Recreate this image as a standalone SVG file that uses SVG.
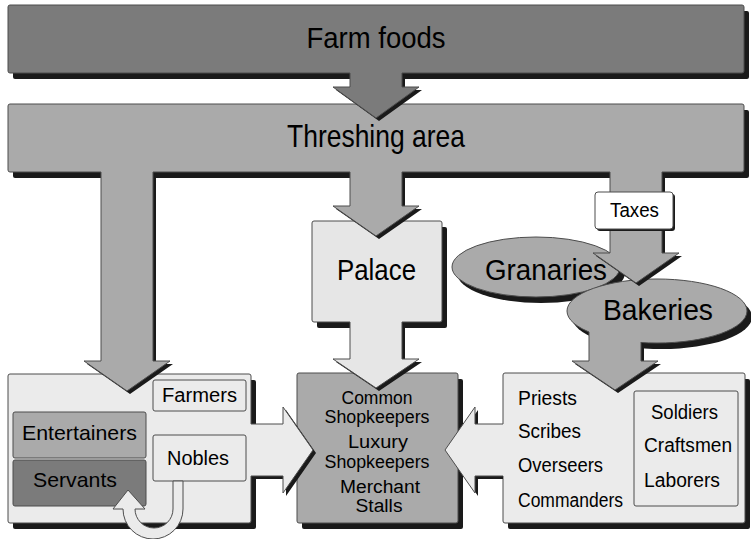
<svg xmlns="http://www.w3.org/2000/svg" width="751" height="539" viewBox="0 0 751 539">
<style>
.sh{fill:#1a1a1a}
.bx{stroke:#4d4d4d;stroke-width:1}
.d{fill:#7b7b7b}
.m{fill:#aaaaaa}
.l{fill:#ebebeb}
.p{fill:#e6e6e6}
.w{fill:#ffffff}
.ol{fill:none;stroke:#4d4d4d;stroke-width:1;stroke-linejoin:miter}
.t{font-family:"Liberation Sans",Arial,sans-serif;fill:#000}
.big{font-size:30px}
.sm{font-size:20px}
.cs{font-size:18px}
</style>
<rect width="751" height="539" fill="#fff"/>
<g id="nodes">
 <g id="farm-foods">
  <rect class="sh" x="13" y="11" width="736" height="68" rx="2"/>
  <rect class="bx d" x="8" y="5" width="736" height="68" rx="2"/>
  <text class="t big" x="376" y="48" text-anchor="middle" textLength="139" lengthAdjust="spacingAndGlyphs">Farm foods</text>
 </g>
 <g id="threshing-area">
  <rect class="sh" x="13" y="110" width="736" height="68" rx="2"/>
  <rect class="bx m" x="8" y="104" width="736" height="68" rx="2"/>
  <text class="t" font-size="32" x="376" y="147" text-anchor="middle" textLength="178" lengthAdjust="spacingAndGlyphs">Threshing area</text>
 </g>
 <g id="palace">
  <rect class="sh" x="317" y="227" width="130" height="101" rx="2"/>
  <rect class="bx p" x="312" y="221" width="130" height="101" rx="2"/>
  <text class="t big" x="337" y="280" textLength="79" lengthAdjust="spacingAndGlyphs">Palace</text>
 </g>
 <g id="granaries">
  <ellipse class="sh" cx="541" cy="273" rx="84" ry="30"/>
  <ellipse class="bx m" cx="536" cy="267" rx="84" ry="30"/>
  <text class="t big" x="485" y="280" textLength="122" lengthAdjust="spacingAndGlyphs">Granaries</text>
 </g>
 <g id="bakeries">
  <ellipse class="sh" cx="662" cy="317" rx="90" ry="32"/>
  <ellipse class="bx m" cx="657" cy="311" rx="90" ry="32"/>
  <text class="t big" x="603" y="320" textLength="110" lengthAdjust="spacingAndGlyphs">Bakeries</text>
 </g>
 <g id="people-left">
  <rect class="sh" x="13" y="380" width="243" height="149" rx="2"/>
  <rect class="bx l" x="8" y="374" width="243" height="149" rx="2"/>
 </g>
 <g id="farmers">
  <rect class="bx l" x="153" y="380" width="93" height="31" rx="2"/>
  <text class="t sm" x="162" y="402" textLength="75" lengthAdjust="spacingAndGlyphs">Farmers</text>
 </g>
 <g id="entertainers">
  <rect class="bx m" x="13" y="412" width="133" height="46" rx="2"/>
  <text class="t" font-size="21" x="22" y="440" textLength="115" lengthAdjust="spacingAndGlyphs">Entertainers</text>
 </g>
 <g id="servants">
  <rect class="bx d" x="13" y="460" width="133" height="46" rx="2"/>
  <text class="t" font-size="21" x="33" y="487" textLength="84" lengthAdjust="spacingAndGlyphs">Servants</text>
 </g>
 <g id="nobles">
  <rect class="bx l" x="153" y="435" width="93" height="46" rx="2"/>
  <text class="t" font-size="21" x="167" y="465" textLength="62" lengthAdjust="spacingAndGlyphs">Nobles</text>
 </g>
 <g id="shops">
  <rect class="sh" x="302" y="379" width="161" height="150" rx="2"/>
  <rect class="bx m" x="297" y="373" width="161" height="150" rx="2"/>
  <g class="t cs" text-anchor="middle">
   <text x="377" y="404" textLength="71" lengthAdjust="spacingAndGlyphs">Common</text>
   <text x="377" y="423" textLength="105" lengthAdjust="spacingAndGlyphs">Shopkeepers</text>
   <text x="378" y="448" textLength="60" lengthAdjust="spacingAndGlyphs">Luxury</text>
   <text x="377" y="468" textLength="105" lengthAdjust="spacingAndGlyphs">Shopkeepers</text>
   <text x="380" y="493" textLength="80" lengthAdjust="spacingAndGlyphs">Merchant</text>
   <text x="379" y="512" textLength="47" lengthAdjust="spacingAndGlyphs">Stalls</text>
  </g>
 </g>
 <g id="people-right">
  <rect class="sh" x="508" y="379" width="242" height="150" rx="2"/>
  <rect class="bx l" x="503" y="373" width="242" height="150" rx="2"/>
  <g class="t sm">
   <text x="518" y="405" textLength="59" lengthAdjust="spacingAndGlyphs">Priests</text>
   <text x="518" y="438" textLength="63" lengthAdjust="spacingAndGlyphs">Scribes</text>
   <text x="518" y="472" textLength="85" lengthAdjust="spacingAndGlyphs">Overseers</text>
   <text x="518" y="507" textLength="105" lengthAdjust="spacingAndGlyphs">Commanders</text>
  </g>
 </g>
 <g id="workers">
  <rect class="bx l" x="634" y="391" width="104" height="115" rx="2"/>
  <g class="t sm">
   <text x="651" y="419" textLength="67" lengthAdjust="spacingAndGlyphs">Soldiers</text>
   <text x="644" y="452" textLength="88" lengthAdjust="spacingAndGlyphs">Craftsmen</text>
   <text x="644" y="487" textLength="76" lengthAdjust="spacingAndGlyphs">Laborers</text>
  </g>
 </g>
</g>
<g id="connectors">
 <g id="farm-to-threshing">
  <path class="sh" d="M353,75 L353,90 L336,90 L379,121 L422,90 L405,90 L405,75 Z"/>
  <path class="d" d="M350,72 L350,87 L333,87 L376,118 L419,87 L402,87 L402,72 Z"/>
  <path class="ol" d="M350,73 L350,87 L333,87 L376,118 L419,87 L402,87 L402,73"/>
 </g>
 <g id="threshing-to-left">
  <path class="sh" d="M104,174 L104,364 L87,364 L130,394 L173,364 L156,364 L156,174 Z"/>
  <path class="m" d="M101,171 L101,361 L84,361 L127,391 L170,361 L153,361 L153,171 Z"/>
  <path class="ol" d="M101,172 L101,361 L84,361 L127,391 L170,361 L153,361 L153,172"/>
 </g>
 <g id="threshing-to-palace">
  <path class="sh" d="M353,174 L353,209 L336,209 L379,239 L422,209 L405,209 L405,174 Z"/>
  <path class="m" d="M350,171 L350,206 L333,206 L376,236 L419,206 L402,206 L402,171 Z"/>
  <path class="ol" d="M350,172 L350,206 L333,206 L376,236 L419,206 L402,206 L402,172"/>
 </g>
 <g id="threshing-to-bakeries">
  <path class="sh" d="M613,174 L613,256 L596,256 L639,286 L682,256 L665,256 L665,174 Z"/>
  <path class="m" d="M610,171 L610,253 L593,253 L636,283 L679,253 L662,253 L662,171 Z"/>
  <path class="ol" d="M610,172 L610,253 L593,253 L636,283 L679,253 L662,253 L662,172"/>
 </g>
 <g id="palace-to-shops">
  <path class="sh" d="M353,324 L353,362 L336,362 L379,391 L422,362 L405,362 L405,324 Z"/>
  <path class="p" d="M350,321 L350,359 L333,359 L376,388 L419,359 L402,359 L402,321 Z"/>
  <path class="ol" d="M350,322 L350,359 L333,359 L376,388 L419,359 L402,359 L402,322"/>
 </g>
 <g id="bakeries-to-right">
  <path class="sh" d="M592,345 L592,364 L575,364 L618,393 L661,364 L644,364 L644,345 Z"/>
  <path class="m" d="M589,328 L589,361 L572,361 L615,390 L658,361 L641,361 L641,328 Z"/>
  <path class="ol" d="M589,332 L589,361 L572,361 L615,390 L658,361 L641,361 L641,342"/>
 </g>
 <g id="left-to-shops">
  <path class="sh" d="M252,427 L286,427 L286,410 L316,453 L286,496 L286,479 L252,479 Z"/>
  <path class="l" d="M249,424 L283,424 L283,407 L313,450 L283,493 L283,476 L249,476 Z"/>
  <path class="ol" d="M251,424 L283,424 L283,407 L313,450 L283,493 L283,476 L251,476"/>
 </g>
 <g id="right-to-shops">
  <path class="sh" d="M503,427 L478,427 L478,410 L448,453 L478,496 L478,479 L503,479 Z"/>
  <path class="l" d="M505,424 L475,424 L475,407 L445,450 L475,493 L475,476 L505,476 Z"/>
  <path class="ol" d="M503,424 L475,424 L475,407 L445,450 L475,493 L475,476 L503,476"/>
 </g>
 <g id="nobles-to-servants">
  <path class="l" d="M173,481 L173,509 A19,19 0 0 1 135,509 L145,509 L128,490 L113,509 L123,509 A30,30 0 0 0 183,509 L183,481 Z" stroke="#4d4d4d" stroke-width="1"/>
 </g>
</g>
<g id="taxes">
 <rect class="sh" x="597" y="194" width="78" height="37" rx="3"/>
 <rect class="bx w" x="595" y="192" width="78" height="37" rx="3"/>
 <text class="t sm" x="610" y="217" textLength="49" lengthAdjust="spacingAndGlyphs">Taxes</text>
</g>
</svg>
